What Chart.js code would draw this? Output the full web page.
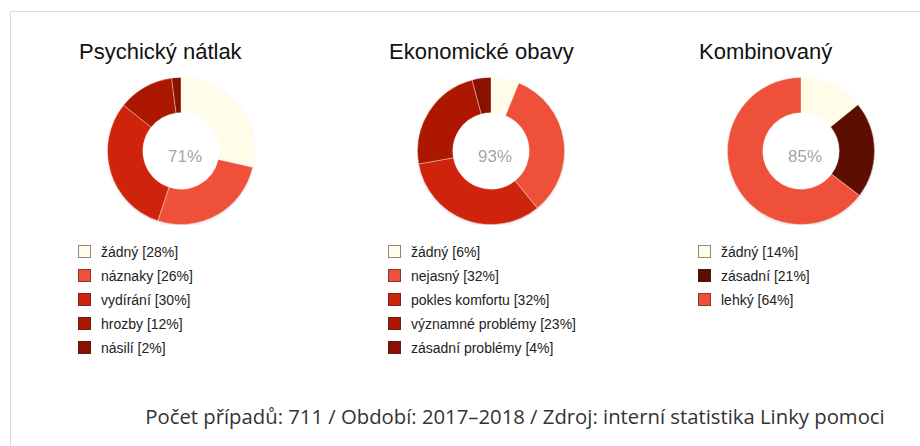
<!DOCTYPE html>
<html lang="cs">
<head>
<meta charset="utf-8">
<title>Linka pomoci</title>
<script src="https://cdn.jsdelivr.net/npm/chart.js@4.4.1/dist/chart.umd.min.js"></script>
<style>
  html, body { margin: 0; padding: 0; background: #fff; }
  body { width: 920px; height: 446px; position: relative; overflow: hidden; font-family: "Liberation Sans", Arial, sans-serif; }
  .frame { position: absolute; left: 10px; top: 11px; width: 1000px; height: 500px; border-left: 1px solid #dcdcdc; border-top: 1px solid #dcdcdc; }
  .title { position: absolute; font-size: 22px; color: #111; white-space: nowrap; }
  .donut { position: absolute; width: 148px; height: 148px; }
  .legend { position: absolute; font-size: 14px; color: #222; }
  .legend div { height: 24px; line-height: 24px; white-space: nowrap; position: relative; padding-left: 23px; }
  .legend span.box { position: absolute; left: 0; top: 5px; width: 11px; height: 11px; border: 1px solid rgba(50,40,40,0.55); }
  .footer { position: absolute; left: 0; width: 1030px; top: 402px; text-align: center; font-family: "Open Sans", sans-serif; font-size: 20.3px; color: #333; white-space: nowrap; }
</style>
</head>
<body>
<div class="frame"></div>
<div id="charts"></div>
<div class="footer" id="footer"></div>

<script>
// data
const titles = ['Psychický nátlak', 'Ekonomické obavy', 'Kombinovaný'];
const centerLabels = ['71%', '93%', '85%'];

const psychLabels = ['žádný', 'náznaky', 'vydírání', 'hrozby', 'násilí'];
const psychValues = [28, 26, 30, 12, 2];
const psychColors = ['#fffde9', '#ee5039', '#cf240c', '#ad1700', '#8a1000'];

const ekoLabels = ['žádný', 'nejasný', 'pokles komfortu', 'významné problémy', 'zásadní problémy'];
const ekoValues = [6, 32, 32, 23, 4];
const ekoColors = ['#fffde9', '#ee5039', '#cf240c', '#ad1700', '#8a1000'];

const kombLabels = ['žádný', 'zásadní', 'lehký'];
const kombValues = [14, 21, 64];
const kombColors = ['#fffde9', '#5c0e00', '#ee5039'];

const footerText = 'Počet případů: 711 / Období: 2017–2018 / Zdroj: interní statistika Linky pomoci';

const sets = [
  { labels: psychLabels, values: psychValues, colors: psychColors },
  { labels: ekoLabels, values: ekoValues, colors: ekoColors },
  { labels: kombLabels, values: kombValues, colors: kombColors }
];

// stred kruhu + stin
const centerText = {
  id: 'centerText',
  beforeDatasetsDraw(chart) {
    const arc = chart.getDatasetMeta(0).data[0];
    if (!arc) return;
    const ctx = chart.ctx;
    ctx.save();
    ctx.beginPath();
    ctx.arc(arc.x, arc.y, arc.outerRadius - 0.5, 0, Math.PI * 2);
    ctx.shadowColor = 'rgba(0,0,0,0.22)';
    ctx.shadowBlur = 3;
    ctx.shadowOffsetY = 1;
    ctx.fillStyle = '#fff';
    ctx.fill();
    ctx.restore();
  },
  afterDraw(chart, args, opts) {
    const arc = chart.getDatasetMeta(0).data[0];
    if (!arc) return;
    const ctx = chart.ctx;
    ctx.save();
    ctx.font = '17px "Liberation Sans", Arial, sans-serif';
    ctx.fillStyle = '#a3a3a3';
    ctx.textAlign = 'center';
    ctx.textBaseline = 'middle';
    ctx.fillText(opts.text, arc.x + 4, arc.y + 6);
    ctx.restore();
  }
};

const holder = document.getElementById('charts');
const centersX = [181, 491, 801];
const centerY = 151;

sets.forEach((s, i) => {
  const cx = centersX[i];

  const t = document.createElement('div');
  t.className = 'title';
  t.style.left = (cx - 102) + 'px';
  t.style.top = '39px';
  t.textContent = titles[i];
  holder.appendChild(t);

  const wrap = document.createElement('div');
  wrap.className = 'donut';
  wrap.style.left = (cx - 74) + 'px';
  wrap.style.top = (centerY - 74) + 'px';
  const canvas = document.createElement('canvas');
  wrap.appendChild(canvas);
  holder.appendChild(wrap);

  new Chart(canvas, {
    type: 'doughnut',
    data: {
      labels: s.labels,
      datasets: [{
        data: s.values,
        backgroundColor: s.colors,
        borderColor: 'rgba(255,255,255,0.35)',
        borderWidth: 1
      }]
    },
    options: {
      responsive: true,
      maintainAspectRatio: false,
      animation: false,
      cutout: '52%',
      layout: { padding: 0 },
      plugins: {
        legend: { display: false },
        tooltip: { enabled: false },
        centerText: { text: centerLabels[i] }
      }
    },
    plugins: [centerText]
  });

  // legenda
  const leg = document.createElement('div');
  leg.className = 'legend';
  leg.style.left = (cx - 103) + 'px';
  leg.style.top = '240px';
  s.labels.forEach((lab, j) => {
    const row = document.createElement('div');
    const box = document.createElement('span');
    box.className = 'box';
    box.style.background = s.colors[j];
    row.appendChild(box);
    row.appendChild(document.createTextNode(lab + ' [' + s.values[j] + '%]'));
    leg.appendChild(row);
  });
  holder.appendChild(leg);
});

document.getElementById('footer').textContent = footerText;
</script>
</body>
</html>
